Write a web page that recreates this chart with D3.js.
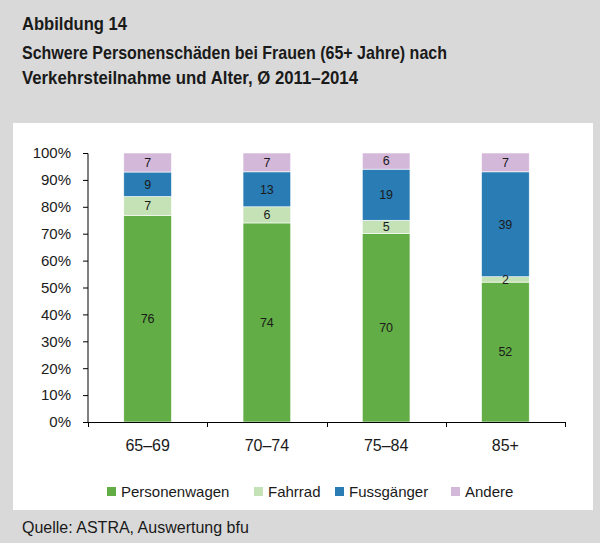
<!DOCTYPE html>
<html><head><meta charset="utf-8">
<script src="https://cdn.jsdelivr.net/npm/d3@7"></script>
<style>
html,body{margin:0;padding:0;background:#d9d9d9;}
svg{display:block;}
text{font-family:"Liberation Sans Narrow","Liberation Sans","Open Sans",sans-serif;}
</style></head>
<body><svg id="c" width="600" height="543"></svg>
<script>
const categories = ["65–69", "70–74", "75–84", "85+"];
const seriesNames = ["Personenwagen", "Fahrrad", "Fussgänger", "Andere"];
const personenwagen = [76, 74, 70, 52];
const fahrrad = [7, 6, 5, 2];
const fussgaenger = [9, 13, 19, 39];
const andere = [7, 7, 6, 7];
const yTicks = [0, 10, 20, 30, 40, 50, 60, 70, 80, 90, 100];
const colors = ["#62ad45", "#c4e2b6", "#2a7db4", "#d3b8d9"];
const titleLines = ["Abbildung 14", "Schwere Personenschäden bei Frauen (65+ Jahre) nach", "Verkehrsteilnahme und Alter, Ø 2011–2014"];
const sourceText = "Quelle: ASTRA, Auswertung bfu";

const svg = d3.select("#c");
svg.append("rect").attr("x",0).attr("y",0).attr("width",600).attr("height",543).attr("fill","#d9d9d9");
svg.append("rect").attr("x",13).attr("y",123).attr("width",580).attr("height",387).attr("fill","#ffffff");

// title
const titleTargets = [105, 425, 336];
const titleY = [30, 59, 84];
titleLines.forEach((t,i)=>{
  const el = svg.append("text").attr("x",22).attr("y",titleY[i])
    .attr("font-size",19).attr("font-weight","bold").attr("fill","#1a1a1a").text(t);
  const w = el.node().getComputedTextLength();
  if (Math.abs(w - titleTargets[i]) > 3) el.attr("textLength", titleTargets[i]).attr("lengthAdjust","spacingAndGlyphs");
});

const data = categories.map((c,i)=>{
  const vals = [personenwagen[i], fahrrad[i], fussgaenger[i], andere[i]];
  const tot = d3.sum(vals);
  const o = {cat:c};
  seriesNames.forEach((s,j)=>{ o[s] = vals[j]/tot*100; o[s+"_raw"] = vals[j]; });
  return o;
});
const stack = d3.stack().keys(seriesNames)(data);

const x = d3.scaleBand().domain(categories).range([88,565]).paddingInner(0.6).paddingOuter(0.3);
const xb = d3.scaleBand().domain(categories).range([88,565]);
const y = d3.scaleLinear().domain([0,100]).range([422,153]);

// y axis
const yAxis = svg.append("g").attr("transform","translate(88,0)")
  .call(d3.axisLeft(y).tickValues(yTicks).tickFormat(d=>d+"%").tickSize(5).tickPadding(12));
yAxis.select(".domain").attr("stroke","#000").attr("d","M0,153.5V422.5");
yAxis.selectAll(".tick line").attr("stroke","#000");
yAxis.selectAll(".tick text").attr("font-size",15).attr("fill","#1a1a1a")
  .style("font-family","'Liberation Sans','Open Sans',sans-serif");

// bars
const g = svg.append("g");
stack.forEach((layer,j)=>{
  g.selectAll(null).data(layer).enter().append("rect")
    .attr("x",d=>x(d.data.cat)).attr("width",x.bandwidth())
    .attr("y",d=>y(d[1])).attr("height",d=>y(d[0])-y(d[1]))
    .attr("fill",colors[j]).attr("stroke","#ffffff").attr("stroke-width",0.6);
});
stack.forEach((layer,j)=>{
  g.selectAll(null).data(layer).enter().append("text")
    .attr("x",d=>x(d.data.cat)+x.bandwidth()/2)
    .attr("y",d=>(y(d[0])+y(d[1]))/2)
    .attr("dy","0.35em").attr("text-anchor","middle")
    .attr("font-size",12.5).attr("fill","#1a1a1a")
    .style("font-family","'Liberation Sans','Open Sans',sans-serif")
    .text(d=>d.data[seriesNames[j]+"_raw"]);
});

// x axis
const xAxis = svg.append("g").attr("transform","translate(0,422)");
xAxis.append("line").attr("x1",88).attr("x2",565).attr("y1",0.5).attr("y2",0.5).attr("stroke","#000");
const bounds = categories.map(c=>xb(c)).concat([xb(categories[categories.length-1])+xb.bandwidth()]);
xAxis.selectAll(null).data(bounds).enter().append("line")
  .attr("x1",d=>Math.round(d)+0.5).attr("x2",d=>Math.round(d)+0.5).attr("y1",0).attr("y2",5).attr("stroke","#000");
xAxis.selectAll(null).data(categories).enter().append("text")
  .attr("x",d=>xb(d)+xb.bandwidth()/2).attr("y",23).attr("dy","0.35em")
  .attr("text-anchor","middle").attr("font-size",16).attr("fill","#1a1a1a")
  .style("font-family","'Liberation Sans','Open Sans',sans-serif")
  .text(d=>d);

// legend
const legX = [107, 254, 335, 451];
const leg = svg.append("g");
seriesNames.forEach((s,i)=>{
  leg.append("rect").attr("x",legX[i]).attr("y",487).attr("width",9).attr("height",9).attr("fill",colors[i]);
  leg.append("text").attr("x",legX[i]+14).attr("y",492).attr("dy","0.35em")
    .attr("font-size",15).attr("fill","#1a1a1a")
    .style("font-family","'Liberation Sans','Open Sans',sans-serif").text(s);
});

// source
svg.append("text").attr("x",22).attr("y",527).attr("dy","0.35em")
  .attr("font-size",16).attr("fill","#1a1a1a")
  .style("font-family","'Liberation Sans','Open Sans',sans-serif").text(sourceText);
</script></body></html>
